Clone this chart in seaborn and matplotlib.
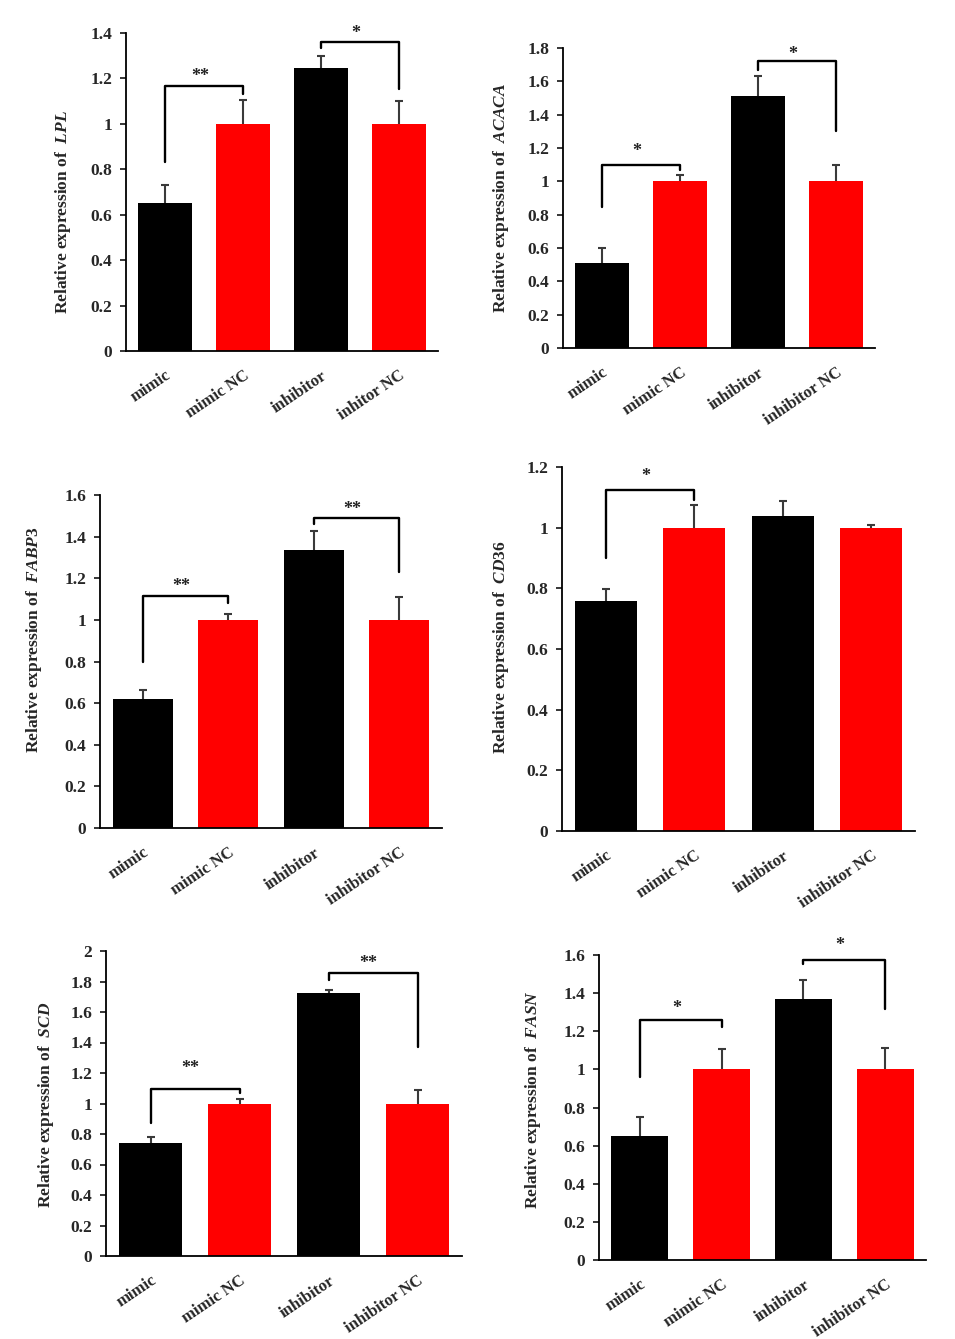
import matplotlib
matplotlib.use("Agg")
import matplotlib.pyplot as plt
import seaborn as sns
import pandas as pd
from matplotlib.ticker import FuncFormatter

# groups shared by every panel
groups = ["mimic", "mimic NC", "inhibitor", "inhibitor NC"]
groups_lpl = ["mimic", "mimic NC", "inhibitor", "inhitor NC"]  # typo kept as in figure
bar_colors = ["#000000", "#ff0000", "#000000", "#ff0000"]

# values (mean, upper error)
lpl_mean = [0.65, 1.0, 1.245, 1.0]
lpl_err = [0.08, 0.105, 0.055, 0.10]
acaca_mean = [0.51, 1.0, 1.51, 1.0]
acaca_err = [0.09, 0.04, 0.12, 0.10]
fabp3_mean = [0.62, 1.0, 1.335, 1.0]
fabp3_err = [0.045, 0.03, 0.09, 0.11]
cd36_mean = [0.757, 1.0, 1.04, 1.0]
cd36_err = [0.042, 0.076, 0.047, 0.01]
scd_mean = [0.74, 1.0, 1.725, 1.0]
scd_err = [0.038, 0.032, 0.017, 0.086]
fasn_mean = [0.648, 1.0, 1.37, 1.0]
fasn_err = [0.10, 0.107, 0.10, 0.11]

# significance brackets: (left bar, right bar, left foot, top, right foot, label, label y)
lpl_sig = [(0, 1, 0.83, 1.168, 1.13, "**", 1.21), (2, 3, 1.334, 1.359, 1.153, "*", 1.40)]
acaca_sig = [(0, 1, 0.848, 1.098, 1.068, "*", 1.18), (2, 3, 1.67, 1.72, 1.30, "*", 1.76)]
fabp3_sig = [(0, 1, 0.80, 1.117, 1.08, "**", 1.16), (2, 3, 1.461, 1.488, 1.229, "**", 1.53)]
cd36_sig = [(0, 1, 0.901, 1.123, 1.092, "*", 1.17)]
scd_sig = [(0, 1, 0.872, 1.097, 1.069, "**", 1.23), (2, 3, 1.808, 1.858, 1.37, "**", 1.92)]
fasn_sig = [(0, 1, 0.962, 1.259, 1.22, "*", 1.32), (2, 3, 1.551, 1.574, 1.315, "*", 1.65)]

# layout: axes box in pixels (left, top, right, bottom) and y-label centre in pixels
panels = [
    ("LPL", groups_lpl, lpl_mean, lpl_err, lpl_sig, 1.4, [126, 33, 438, 351], (60, 212)),
    ("ACACA", groups, acaca_mean, acaca_err, acaca_sig, 1.8, [563, 48, 875, 348], (498, 198)),
    ("FABP3", groups, fabp3_mean, fabp3_err, fabp3_sig, 1.6, [100, 495, 442, 828], (31, 640)),
    ("CD36", groups, cd36_mean, cd36_err, cd36_sig, 1.2, [562, 467, 915, 831], (498, 647)),
    ("SCD", groups, scd_mean, scd_err, scd_sig, 2.0, [106, 951, 462, 1256], (43, 1105)),
    ("FASN", groups, fasn_mean, fasn_err, fasn_sig, 1.6, [599, 955, 926, 1260], (530, 1100)),
]

sns.set_theme(style="white")
plt.rcParams["font.family"] = ["Liberation Serif", "DejaVu Serif"]
plt.rcParams["font.weight"] = "bold"
plt.rcParams["mathtext.fontset"] = "custom"
plt.rcParams["mathtext.it"] = "Liberation Serif:italic:bold"
plt.rcParams["mathtext.rm"] = "Liberation Serif:bold"

W, H = 955, 1339
fig = plt.figure(figsize=(W / 100, H / 100), dpi=100)

for gene, cats, means, errs, sigs, ymax, box, lab_c in panels:
    x0, y0, x1, y1 = box
    ax = fig.add_axes([x0 / W, 1 - y1 / H, (x1 - x0) / W, (y1 - y0) / H])
    df = pd.DataFrame({"group": cats, "value": means})
    sns.barplot(data=df, x="group", y="value", hue="group", palette=bar_colors,
                width=0.7, legend=False, ax=ax, linewidth=0, saturation=1)
    eb = ax.errorbar(range(len(cats)), means, yerr=[[0] * len(errs), errs], fmt="none",
                     ecolor="#3a3a3a", elinewidth=1.5, capsize=3, capthick=1.5)
    # only the upper cap is drawn in the figure
    eb[1][0].set_visible(False)

    for i, j, lf, top, rf, lab, ly in sigs:
        ax.plot([i, i, j, j], [lf, top, top, rf], color="black", lw=1.7, clip_on=False)
        ax.text((i + j) / 2 - 0.05, ly, lab, ha="center", va="center", fontsize=13,
                color="#222222", clip_on=False)

    ax.set_xlim(-0.5, 3.5)
    ax.set_ylim(0, ymax)
    ax.set_yticks([k * 0.2 for k in range(int(round(ymax / 0.2)) + 1)])
    ax.yaxis.set_major_formatter(FuncFormatter(lambda v, p: "%g" % round(v, 1)))
    for s in ["top", "right"]:
        ax.spines[s].set_visible(False)
    for s in ["left", "bottom"]:
        ax.spines[s].set_color("black")
        ax.spines[s].set_linewidth(1.3)
    ax.tick_params(axis="y", which="major", left=True, length=4, width=1.1,
                   color="black", labelsize=12.5, pad=6)
    ax.tick_params(axis="x", bottom=False, labelsize=12, pad=6)
    plt.setp(ax.get_xticklabels(), rotation=34, ha="right", rotation_mode="anchor")
    ax.set_xlabel("")
    ax.set_ylabel("Relative expression of  $\\mathit{" + gene + "}$", fontsize=12.5,
                  fontweight="bold")
    lx, lyc = lab_c
    ax.yaxis.set_label_coords((lx + 13 - x0) / (x1 - x0), (y1 - lyc) / (y1 - y0))

fig.savefig("out.png", dpi=100, facecolor="white")
